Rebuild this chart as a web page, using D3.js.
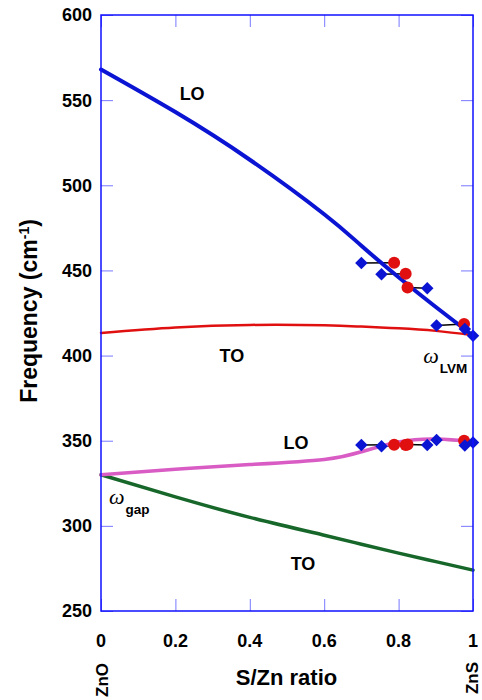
<!DOCTYPE html>
<html>
<head>
<meta charset="utf-8">
<script src="https://cdn.jsdelivr.net/npm/d3@7"></script>
<style>
  body { margin: 0; background: #fff; }
  svg text { font-family: Arial, "Liberation Sans", sans-serif; font-weight: bold; fill: #000; }
</style>
</head>
<body>
<svg id="chart" width="482" height="700"></svg>
<script>
// composition grid for the model curves (S/Zn ratio)
const curveX = [0, 0.2, 0.4, 0.6, 0.7, 0.8, 0.9, 1.0];
const loUpper = [568, 543, 515, 483, 464.5, 446, 428.5, 411.7];
const toUpper = [413.3, 416.5, 418, 417.8, 417, 416, 414.5, 412];
const loLower = [330, 333.3, 336, 339, 343.5, 349.3, 351, 349.5];
const toLower = [330, 317, 305, 294.5, 289.2, 284, 279, 274];

// measured modes
const diamondX = [0.70, 0.754, 0.877, 0.902, 0.978, 1.0];
const diamondUp = [454.3, 447.8, 439.5, 417.6, 415.6, 411.7];
const diamondLow = [347.5, 346.8, 347.5, 350.4, 347.2, 349];
const circleX = [0.788, 0.819, 0.824, 0.976];
const circleUp = [454.5, 448, 440, 418.6];
const circleLow = [347.6, 347.5, 347.8, 350];
// diamond index -> circle index for the black connectors
const pairs = [[0, 0], [1, 1], [2, 2], [3, 3]];

const yTicks = [250, 300, 350, 400, 450, 500, 550, 600];
const xTicks = [0, 0.2, 0.4, 0.6, 0.8, 1];

const svg = d3.select('#chart');
const margin = { top: 15, right: 9, bottom: 89, left: 101 };
const width = 482 - margin.left - margin.right,
      height = 700 - margin.top - margin.bottom;

const x = d3.scaleLinear().domain([0, 1]).range([0, width]);
const y = d3.scaleLinear().domain([250, 600]).range([height, 0]);

const g = svg.append('g').attr('transform', `translate(${margin.left}, ${margin.top})`);

// ticks (inward, all four sides)
const tickColor = '#7878ff';
const tickLen = 12;
g.append('g').call(d3.axisRight(y).tickValues(yTicks).tickSize(tickLen).tickFormat(''))
    .call(a => a.select('.domain').remove())
    .selectAll('line').attr('stroke', tickColor);
g.append('g').attr('transform', `translate(${width}, 0)`)
    .call(d3.axisLeft(y).tickValues(yTicks).tickSize(tickLen).tickFormat(''))
    .call(a => a.select('.domain').remove())
    .selectAll('line').attr('stroke', tickColor);
g.append('g').attr('transform', `translate(0, ${height})`)
    .call(d3.axisTop(x).tickValues(xTicks).tickSize(tickLen).tickFormat(''))
    .call(a => a.select('.domain').remove())
    .selectAll('line').attr('stroke', tickColor);
g.append('g')
    .call(d3.axisBottom(x).tickValues(xTicks).tickSize(tickLen).tickFormat(''))
    .call(a => a.select('.domain').remove())
    .selectAll('line').attr('stroke', tickColor);

// tick labels
g.selectAll('.ylab').data(yTicks).join('text')
    .attr('x', -9).attr('y', d => y(d)).attr('dy', '0.36em')
    .attr('text-anchor', 'end').style('font-size', '18px')
    .text(d => d);
g.selectAll('.xlab').data(xTicks).join('text')
    .attr('x', d => x(d)).attr('y', height + 36)
    .attr('text-anchor', 'middle').style('font-size', '18px')
    .text(d => d);

// model curves
const line = d3.line().x(d => x(d[0])).y(d => y(d[1])).curve(d3.curveNatural);
const curves = [
    { v: toLower, color: '#17672a', w: 3.5 },
    { v: loLower, color: '#d95cc4', w: 3.5 },
    { v: toUpper, color: '#e01010', w: 2.5 },
    { v: loUpper, color: '#0a14d2', w: 4 }
];

// connectors between paired measurements
const conn = [];
pairs.forEach(([di, ci]) => {
    conn.push([diamondX[di], diamondUp[di], circleX[ci], circleUp[ci]]);
    conn.push([diamondX[di], diamondLow[di], circleX[ci], circleLow[ci]]);
});
g.selectAll('.conn').data(conn).join('line')
    .attr('x1', d => x(d[0])).attr('y1', d => y(d[1]))
    .attr('x2', d => x(d[2])).attr('y2', d => y(d[3]))
    .attr('stroke', '#000').attr('stroke-width', 1.5);

curves.forEach(c => {
    g.append('path').datum(curveX.map((v, i) => [v, c.v[i]]))
        .attr('d', line).attr('fill', 'none')
        .attr('stroke', c.color).attr('stroke-width', c.w)
        .attr('stroke-linecap', 'round');
});

// circles
const circ = circleX.flatMap((v, i) => [[v, circleUp[i]], [v, circleLow[i]]]);
g.selectAll('.circ').data(circ).join('circle')
    .attr('cx', d => x(d[0])).attr('cy', d => y(d[1])).attr('r', 6)
    .attr('fill', '#e01010');

// diamonds
const diam = diamondX.flatMap((v, i) => [[v, diamondUp[i]], [v, diamondLow[i]]]);
const sq = d3.symbol().type(d3.symbolSquare).size(78);
g.selectAll('.diam').data(diam).join('path')
    .attr('d', sq)
    .attr('transform', d => `translate(${x(d[0])}, ${y(d[1])}) rotate(45)`)
    .attr('fill', '#0a14d2');

// frame
g.append('rect').attr('width', width).attr('height', height)
    .attr('fill', 'none').attr('stroke', '#1010ff').attr('stroke-width', 1.5);

// curve labels
const labels = [
    { t: 'LO', x: 0.245, y: 550 },
    { t: 'TO', x: 0.352, y: 396 },
    { t: 'LO', x: 0.524, y: 345.2 },
    { t: 'TO', x: 0.543, y: 274.1 }
];
g.selectAll('.clab').data(labels).join('text')
    .attr('x', d => x(d.x)).attr('y', d => y(d.y))
    .attr('text-anchor', 'middle').style('font-size', '18px')
    .text(d => d.t);

const omegas = [
    { sub: 'LVM', x: 0.866, y: 395.7 },
    { sub: 'gap', x: 0.0215, y: 312.9 }
];
omegas.forEach(o => {
    const t = g.append('text').attr('x', x(o.x)).attr('y', y(o.y));
    t.append('tspan').text('ω')
        .style('font-family', '"Liberation Serif", "Times New Roman", serif')
        .style('font-style', 'italic').style('font-weight', 'normal').style('font-size', '22px');
    t.append('tspan').text(o.sub).attr('dy', 10).attr('dx', 1).style('font-size', '13.5px');
});

// axis titles
svg.append('text')
    .attr('transform', 'translate(37, 311) rotate(-90)')
    .attr('text-anchor', 'middle').style('font-size', '23px')
    .call(t => {
        t.append('tspan').text('Frequency (cm');
        t.append('tspan').text('-1').attr('dy', -8).style('font-size', '14px');
        t.append('tspan').text(')').attr('dy', 8);
    });
svg.append('text')
    .attr('x', margin.left + width * 0.5 - 0.5).attr('y', 685)
    .attr('text-anchor', 'middle').style('font-size', '22px')
    .text('S/Zn ratio');

// end-member labels
[{ t: 'ZnO', v: 0, cy: 680 }, { t: 'ZnS', v: 1, cy: 678 }].forEach(d => {
    svg.append('text')
        .attr('transform', `translate(${margin.left + x(d.v) + (d.v === 0 ? 7 : 5)}, ${d.cy}) rotate(-90)`)
        .attr('text-anchor', 'middle').style('font-size', '17px')
        .text(d.t);
});
</script>
</body>
</html>
